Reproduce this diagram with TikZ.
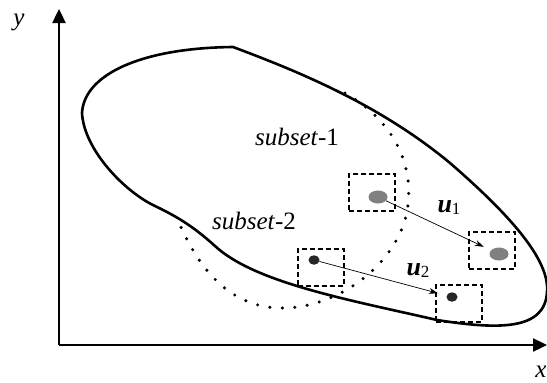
\documentclass[tikz,border=0pt]{standalone}
\usepackage{fontspec}
\setmainfont{Liberation Serif}
\usepackage{tikz}
\usetikzlibrary{arrows.meta,calc,positioning,shapes.geometric}
\tikzset{>=stealth,
	axis/.style={% the two axes
		line width=2.4pt,
		-{Triangle[length=14pt,width=13pt]}
	},
	region/.style={
		line width=2.6pt,
		line join=round
	},
	subsetline/.style={
		line width=3.4pt,
		line cap=round,
		dash pattern=on 0pt off 12.5pt
	},
	window/.style={
		draw, rectangle,
		line width=2pt,
		dash pattern=on 5pt off 3pt,
		minimum width=46pt,
		minimum height=37pt,
		inner sep=0pt
	},
	spot/.style={
		ellipse,
		inner sep=0pt,
		draw=none
	},
	move/.style={
		-{Stealth[length=9pt,width=6pt]}, line width=0.7pt,
		shorten >=8pt
	},
	lbl/.style={
		font=\fontsize{25}{28}\selectfont\itshape,
		inner sep=0pt
	},
	vec/.style={
		font=\fontsize{26}{28}\selectfont\bfseries\itshape,
		inner sep=0pt
	}
}
\newcommand{\idx}[1]{\textmd{\textup{\fontsize{17}{17}\selectfont\raisebox{-2pt}{#1}}}}
\begin{document}
\begin{tikzpicture}[x=1pt,y=-1pt]
	\useasboundingbox (0,0) rectangle (547,383);
	% axes
	\coordinate (o) at (59,345);
	\coordinate (ytip) at (59,9);
	\coordinate (xtip) at (547,345);
	\draw [axis] (o) -- (ytip);
	\draw [axis] (o) -- (xtip);
	\node [lbl] (ylab) at (19,22) {y};
	\node [lbl] (xlab) at (541,372) {x};
	% outline of the whole set
	\draw [region] (233,47) .. controls (300,72) and (380,105) .. (450,163)
		.. controls (510,215) and (550,260) .. (547,292)
		.. controls (545,330) and (500,330) .. (437,320)
		.. controls (350,300) and (255,283) .. (215,246)
		.. controls (195,228) and (180,218) .. (155,206)
		.. controls (125,192) and (84,150) .. (82,113)
		.. controls (84,75) and (140,48) .. (233,47) -- cycle;
	% border between the two subsets
	\draw [subsetline] (345,93) .. controls (400,125) and (412,170) .. (408,205)
		.. controls (402,260) and (340,310) .. (278,308)
		.. controls (230,306) and (200,270) .. (180,225);
	\node [lbl] (s1) at (297,137) {subset\textup{-1}};
	\node [lbl] (s2) at (254,221) {subset\textup{-2}};
	% windows and their spots
	\node [window] (w1) at (372,192) {};
	\node [window] (w2) at (492,250) {};
	\node [window] (w3) at (321,267) {};
	\node [window] (w4) at (459,303) {};
	\node [spot, fill=gray, minimum width=19pt, minimum height=13pt] (p1) at (378,197) {};
	\node [spot, fill=gray, minimum width=19pt, minimum height=13pt] (p2) at (499,254) {};
	\node [spot, fill=black!85, minimum width=11pt, minimum height=9.5pt] (p3) at (314,260) {};
	\node [spot, fill=black!85, minimum width=11pt, minimum height=9.5pt] (p4) at (452,297) {};
	\draw [move] (p1) -- (p2);
	\draw [move, shorten >=9pt] (p3) -- (p4);
	\node [vec] (u1) at (449,208) {u\idx{1}};
	\node [vec] (u2) at (418,271) {u\idx{2}};
\end{tikzpicture}
\end{document}
